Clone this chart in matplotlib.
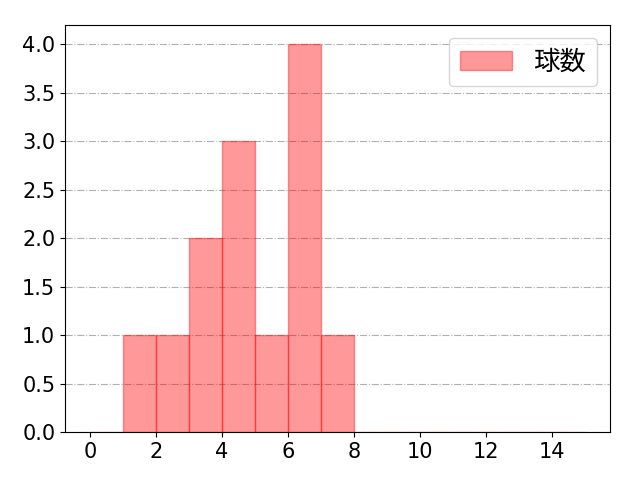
import numpy as np
import matplotlib
matplotlib.use("Agg")
import matplotlib.pyplot as plt

plt.rcParams['font.family'] = ['DejaVu Sans', 'Noto Sans CJK JP']
plt.rcParams['font.size'] = 15

bin_edges = list(range(0, 16))
counts = [0, 1, 1, 2, 3, 1, 4, 1, 0, 0, 0, 0, 0, 0, 0]
label = '球数'

fig, ax = plt.subplots(figsize=(6.4, 4.8), dpi=100)
ax.hist(bin_edges[:-1], bins=bin_edges, weights=counts, color='red', alpha=0.4,
        edgecolor='red', label=label)
ax.set_axisbelow(True)
ax.grid(axis='y', linestyle='-.', color='#b0b0b0')
ax.set_xticks(range(0, 16, 2))
ax.set_yticks(np.arange(0, 4.01, 0.5))
ax.legend(loc='upper right', prop={'family': 'Noto Sans CJK JP', 'size': 19})
fig.subplots_adjust(left=65/640, right=610/640, bottom=48/480, top=455/480)
fig.savefig('out.png')
